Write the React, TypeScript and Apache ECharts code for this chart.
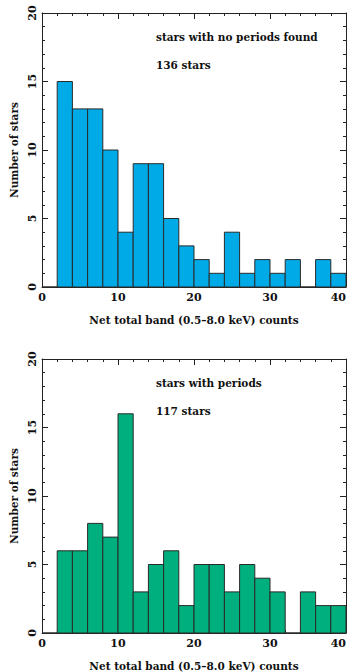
import React, { useEffect, useRef } from "react";
import * as echarts from "echarts";

const binEdges = [0, 2, 4, 6, 8, 10, 12, 14, 16, 18, 20, 22, 24, 26, 28, 30, 32, 34, 36, 38, 40];
const noPeriodCounts = [0, 15, 13, 13, 10, 4, 9, 9, 5, 3, 2, 1, 4, 1, 2, 1, 2, 0, 2, 1];
const periodCounts = [0, 6, 6, 8, 7, 16, 3, 5, 6, 2, 5, 5, 3, 5, 4, 3, 0, 3, 2, 2];
const xTicks = [0, 10, 20, 30, 40];
const yTicks = [0, 5, 10, 15, 20];
const topLabel = "stars with no periods found";
const topCount = "136 stars";
const bottomLabel = "stars with periods";
const bottomCount = "117 stars";
const xTitle = "Net total band (0.5\u20138.0 keV) counts";
const yTitle = "Number of stars";

const FONT = "DejaVu Serif";
const TXT = "#111";

function histData(counts: number[]) {
  return counts.map((c, i) => [binEdges[i], binEdges[i + 1], c]);
}

export default function App() {
  const ref = useRef<HTMLDivElement>(null);
  useEffect(() => {
    if (!ref.current) return;
    const chart = echarts.init(ref.current, undefined, { renderer: "svg" });
    const grids = [
      { left: 42, top: 13, width: 304, height: 274, outerBoundsMode: "none", containLabel: false },
      { left: 42, top: 359, width: 304, height: 274, outerBoundsMode: "none", containLabel: false },
    ];
    const labelStyle = { fontFamily: FONT, fontSize: 11, fontWeight: "bold", color: TXT };
    const titleStyle = { fontFamily: FONT, fontSize: 10.5, fontWeight: "bold", color: TXT };
    const xAxes: any[] = [];
    const yAxes: any[] = [];
    grids.forEach((_, gi) => {
      const base = {
        gridIndex: gi,
        type: "value",
        min: xTicks[0],
        max: xTicks[xTicks.length - 1],
        interval: xTicks[1] - xTicks[0],
        splitLine: { show: false },
        axisLine: { show: true, onZero: false, lineStyle: { color: "#222", width: 1 } },
        axisTick: { show: true, inside: true, length: 6, lineStyle: { color: "#222" } },
        minorTick: { show: true, splitNumber: 5, length: 3, lineStyle: { color: "#222" } },
      };
      xAxes.push({
        ...base,
        position: "bottom",
        name: xTitle,
        nameLocation: "middle",
        nameGap: 27,
        nameTextStyle: { ...titleStyle },
        axisLabel: { ...labelStyle, margin: 5, alignMaxLabel: "right" },
      });
      xAxes.push({ ...base, position: "top", axisLabel: { show: false } });
      const ybase = {
        gridIndex: gi,
        type: "value",
        min: yTicks[0],
        max: yTicks[yTicks.length - 1],
        interval: yTicks[1] - yTicks[0],
        splitLine: { show: false },
        axisLine: { show: true, onZero: false, lineStyle: { color: "#222", width: 1 } },
        axisTick: { show: true, inside: true, length: 6, lineStyle: { color: "#222" } },
        minorTick: { show: true, splitNumber: 5, length: 3, lineStyle: { color: "#222" } },
      };
      yAxes.push({
        ...ybase,
        position: "left",
        name: yTitle,
        nameLocation: "middle",
        nameGap: 21,
        nameRotate: 90,
        nameTextStyle: { ...titleStyle },
        axisLabel: { ...labelStyle, rotate: 90, margin: 4 },
      });
      yAxes.push({ ...ybase, position: "right", axisLabel: { show: false } });
    });

    const makeSeries = (counts: number[], color: string, gi: number) => ({
      type: "custom",
      xAxisIndex: gi * 2,
      yAxisIndex: gi * 2,
      data: histData(counts),
      renderItem: (params: any, api: any) => {
        const x0 = api.value(0);
        const x1 = api.value(1);
        const v = api.value(2);
        const p0 = api.coord([x0, v]);
        const p1 = api.coord([x1, 0]);
        return {
          type: "rect",
          shape: { x: p0[0], y: p0[1], width: p1[0] - p0[0], height: p1[1] - p0[1] },
          style: { fill: color, stroke: "#2a2a2a", lineWidth: 1 },
        };
      },
    });

    const annStyle = { fontFamily: FONT, fontSize: 10.5, fontWeight: "bold", fill: TXT };
    chart.setOption({
      animation: false,
      backgroundColor: "#fff",
      grid: grids,
      xAxis: xAxes,
      yAxis: yAxes,
      series: [
        makeSeries(noPeriodCounts, "#00aae6", 0),
        makeSeries(periodCounts, "#00af7e", 1),
      ],
      graphic: [
        { type: "text", left: 156, top: 31, style: { text: topLabel, ...annStyle } },
        { type: "text", left: 156, top: 59, style: { text: topCount, ...annStyle } },
        { type: "text", left: 156, top: 377, style: { text: bottomLabel, ...annStyle } },
        { type: "text", left: 156, top: 405, style: { text: bottomCount, ...annStyle } },
      ],
    });
    return () => chart.dispose();
  }, []);
  return (
    <div
      ref={ref}
      style={{ position: "absolute", left: 0, top: 0, width: 352, height: 672 }}
    />
  );
}
